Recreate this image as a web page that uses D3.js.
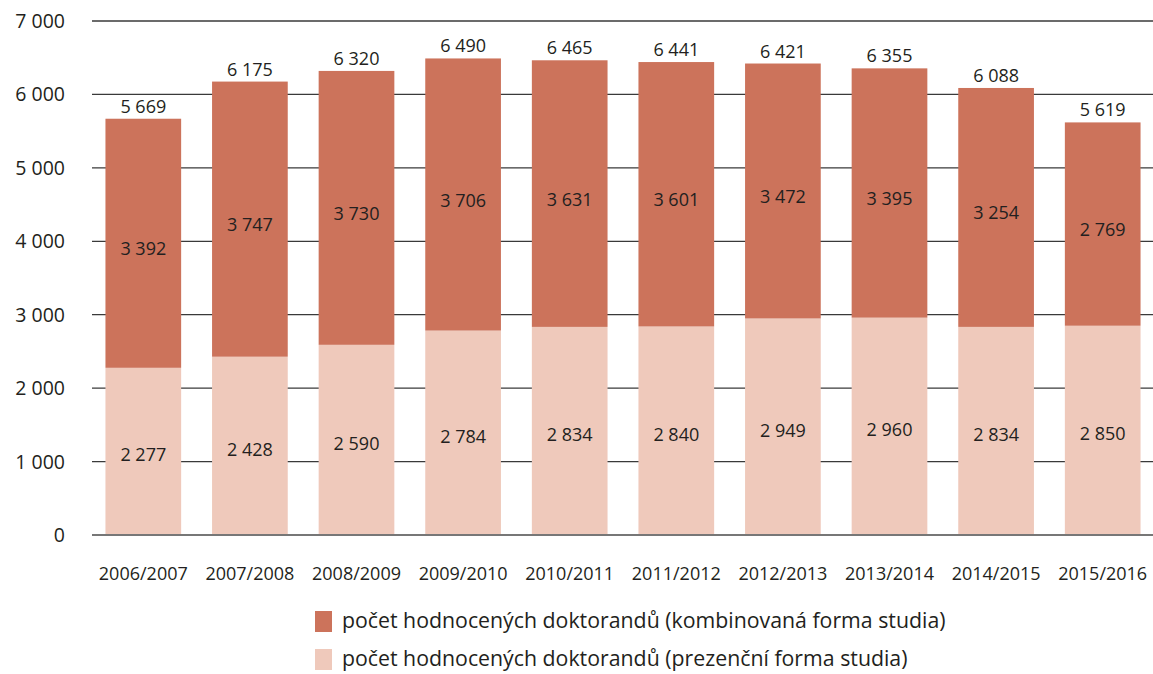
<!DOCTYPE html>
<html>
<head>
<meta charset="utf-8">
<script src="https://cdn.jsdelivr.net/npm/d3@7"></script>
<style>
  body { margin: 0; background: #fff; }
  text { font-family: "Open Sans", "Noto Sans", sans-serif; fill: #231f20; }
</style>
</head>
<body>
<div id="chart"></div>
<script>
const years = ["2006/2007", "2007/2008", "2008/2009", "2009/2010", "2010/2011",
  "2011/2012", "2012/2013", "2013/2014", "2014/2015", "2015/2016"];
const prezencni = [2277, 2428, 2590, 2784, 2834, 2840, 2949, 2960, 2834, 2850];
const kombinovana = [3392, 3747, 3730, 3706, 3631, 3601, 3472, 3395, 3254, 2769];
const yTicks = [0, 1000, 2000, 3000, 4000, 5000, 6000, 7000];
const seriesNames = [
  "počet hodnocených doktorandů (kombinovaná forma studia)",
  "počet hodnocených doktorandů (prezenční forma studia)"
];

const width = 1153, height = 674;
const colDark = "#cc735b", colLight = "#efc9bb";
const fmt = (v) => d3.format(",")(v).replace(/,/g, " ");

const svg = d3.select("#chart").append("svg")
  .attr("width", width).attr("height", height);

const x = d3.scaleBand().domain(years).range([90, 1156]).paddingInner(0.29).paddingOuter(0.145);
const y = d3.scaleLinear().domain([0, 7000]).range([535, 21]);

// Gridlines
svg.selectAll("line.grid")
  .data(yTicks.filter((d) => d > 0))
  .enter().append("line")
  .attr("x1", 92).attr("x2", width)
  .attr("y1", (d) => y(d)).attr("y2", (d) => y(d))
  .attr("stroke", "#3a3a3a").attr("stroke-width", 1.3);

// Y tick labels
svg.selectAll("text.ytick")
  .data(yTicks)
  .enter().append("text")
  .attr("x", 65).attr("y", (d) => y(d) + 7)
  .attr("text-anchor", "end")
  .style("font-size", "19.5px")
  .text((d) => fmt(d));

const rows = years.map((yr, i) => ({ yr, p: prezencni[i], k: kombinovana[i] }));

// Bars
svg.selectAll("rect.p").data(rows).enter().append("rect")
  .attr("x", (d) => x(d.yr)).attr("width", x.bandwidth())
  .attr("y", (d) => y(d.p)).attr("height", (d) => y(0) - y(d.p))
  .attr("fill", colLight);

svg.selectAll("rect.k").data(rows).enter().append("rect")
  .attr("x", (d) => x(d.yr)).attr("width", x.bandwidth())
  .attr("y", (d) => y(d.p + d.k)).attr("height", (d) => y(d.p) - y(d.p + d.k))
  .attr("fill", colDark);

// Zero line
svg.append("line")
  .attr("x1", 92).attr("x2", width)
  .attr("y1", y(0)).attr("y2", y(0))
  .attr("stroke", "#777").attr("stroke-width", 2);

const cx = (d) => x(d.yr) + x.bandwidth() / 2;

// Segment labels
svg.selectAll("text.pl").data(rows).enter().append("text")
  .attr("x", cx).attr("y", (d) => (y(0) + y(d.p)) / 2 + 10)
  .attr("text-anchor", "middle").style("font-size", "18px")
  .text((d) => fmt(d.p));

svg.selectAll("text.kl").data(rows).enter().append("text")
  .attr("x", cx).attr("y", (d) => (y(d.p) + y(d.p + d.k)) / 2 + 12)
  .attr("text-anchor", "middle").style("font-size", "18px")
  .text((d) => fmt(d.k));

svg.selectAll("text.tl").data(rows).enter().append("text")
  .attr("x", cx).attr("y", (d) => y(d.p + d.k) - 6)
  .attr("text-anchor", "middle").style("font-size", "18px")
  .text((d) => fmt(d.p + d.k));

// X labels
svg.selectAll("text.xl").data(years).enter().append("text")
  .attr("x", (d) => x(d) + x.bandwidth() / 2).attr("y", 580)
  .attr("text-anchor", "middle").style("font-size", "18px")
  .text((d) => d);

// Legend
const legend = svg.selectAll("g.leg").data(seriesNames).enter().append("g")
  .attr("transform", (d, i) => `translate(315, ${611 + i * 38})`);
legend.append("rect").attr("width", 17).attr("height", 21)
  .attr("fill", (d, i) => (i === 0 ? colDark : colLight));
legend.append("text").attr("x", 27).attr("y", 17)
  .style("font-size", "21.3px").text((d) => d);
</script>
</body>
</html>
